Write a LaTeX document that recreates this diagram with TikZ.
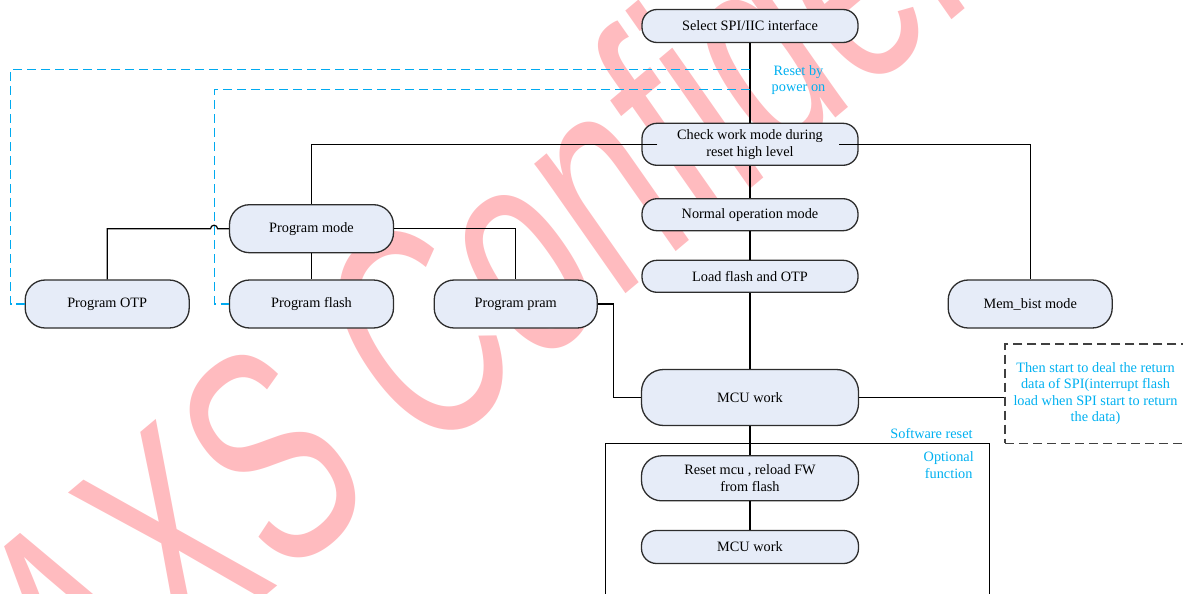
\documentclass[tikz,border=0pt]{standalone}
\usepackage{fontspec}
\setmainfont{Liberation Serif}
\newfontfamily\wmfont[FakeStretch=0.655]{Liberation Sans}
\usetikzlibrary{calc}
\definecolor{boxfill}{RGB}{230,236,248}
\definecolor{boxline}{RGB}{45,45,45}
\definecolor{cyantext}{RGB}{0,176,240}
\definecolor{cyanline}{RGB}{0,170,240}
\definecolor{wmpink}{RGB}{255,187,191}
\definecolor{notegray}{RGB}{64,64,64}
\begin{document}
\begin{tikzpicture}[x=1pt,y=1pt,
  every node/.style={font=\fontsize{14.3}{17}\selectfont},
  flowbox/.style={draw=boxline, line width=1.3pt, fill=boxfill, rounded corners=15pt,
    minimum width=216pt, minimum height=33pt, inner sep=0pt, align=center},
  progbox/.style={flowbox, minimum width=164pt, minimum height=48pt, rounded corners=20pt},
  conn/.style={draw=black, line width=1.2pt},
  pwr/.style={draw=cyanline, line width=1.5pt, dash pattern=on 9pt off 5pt},
  bluelabel/.style={text=cyantext, inner sep=0pt, align=center}
]
\useasboundingbox (0,0) rectangle (1183,-594);
\clip (0,0) rectangle (1183,-594);

% watermark behind everything (slanted, tall lettering)
\begin{scope}[shift={(80,-752)}, cm={0.766,0.643,-0.574,0.819,(0,0)}]
  \node[transform shape, anchor=base west, inner sep=0pt, text=wmpink,
    font=\wmfont\fontsize{300}{300}\selectfont] (wm) at (0,0) {AXS Confidential};
\end{scope}

% main flow
\node[flowbox] (sel) at (750,-26) {Select SPI/IIC interface};
\node[flowbox, minimum height=42pt] (chk) at (750,-144.3) {Check work mode during\\reset high level};
\node[flowbox, minimum height=32pt] (nrm) at (750,-214.7) {Normal operation mode};
\node[flowbox, minimum height=32pt] (load) at (750,-276.3) {Load flash and OTP};
\node[progbox] (pmode) at (311.5,-228.7) {Program mode};
\node[progbox] (potp) at (107.2,-304) {Program OTP};
\node[progbox] (pflash) at (311.5,-304) {Program flash};
\node[progbox, minimum width=163pt] (ppram) at (515.7,-304) {Program pram};
\node[progbox] (mem) at (1030.2,-304) {Mem\_bist mode};
\node[flowbox, minimum width=217pt, minimum height=56pt, rounded corners=22pt] (mcu) at (750,-397.5) {MCU work};
\node[flowbox, minimum width=217pt, minimum height=45pt, rounded corners=20pt] (rst) at (750,-478.3) {Reset mcu , reload FW\\from flash};
\node[flowbox, minimum width=217pt] (mcu2) at (750,-547) {MCU work};

% note box on the right
\node[draw=notegray, line width=1.2pt, dash pattern=on 9pt off 5pt, minimum width=190pt,
  minimum height=99.3pt, inner sep=0pt] (note) at (1100,-393.65) {};
\node[bluelabel, font=\fontsize{14.3}{16.35}\selectfont] (notetext) at (1095.5,-393.5)
  {Then start to deal the return\\data of SPI(interrupt flash\\load when SPI start to return\\the data)};

% optional function frame
\draw[conn] (605.5,-443.5) rectangle (989.5,-610);

% labels
\node[bluelabel, font=\fontsize{14.3}{16}\selectfont] (rpo) at (798.5,-79.7) {Reset by\\power on};
\node[bluelabel] (swr) at (931.5,-433.7) {Software reset};
\node[bluelabel, font=\fontsize{14.3}{16.6}\selectfont] (opt) at (948.7,-465) {Optional\\function};

% connectors
\draw[conn] (sel.south) -- (chk.north);
\draw[conn] (chk.south) -- (nrm.north);
\draw[conn] (nrm.south) -- (load.north);
\draw[conn] (load.south) -- (mcu.north);
\draw[conn] (mcu.south) -- (rst.north);
\draw[conn] (rst.south) -- (mcu2.north);
\draw[conn] (chk.west) ++(16,0) -| (pmode.north);
\draw[conn] (chk.east) ++(-19.5,0) -| (mem.north);
\draw[conn] (pmode.south) -- (pflash.north);
\draw[conn] (pmode.east) -| (ppram.north);
\draw[conn] (pmode.west) -- ++(-11.3,0) arc[start angle=0, end angle=180, radius=3.5] -| (potp.north);
\draw[conn] (ppram.east) -- ++(15.5,0) |- (mcu.west);
\draw[conn] (mcu.east) -- (mcu.east -| note.west);

% reset-by-power-on paths
\coordinate (rp1) at (750,-69.5);
\coordinate (rp2) at (750,-89.5);
\draw[pwr] (rp1) -| (10.5,-304) -- (potp.west);
\draw[pwr] (rp2) -| (214.5,-304) -- (pflash.west);
\end{tikzpicture}
\end{document}
